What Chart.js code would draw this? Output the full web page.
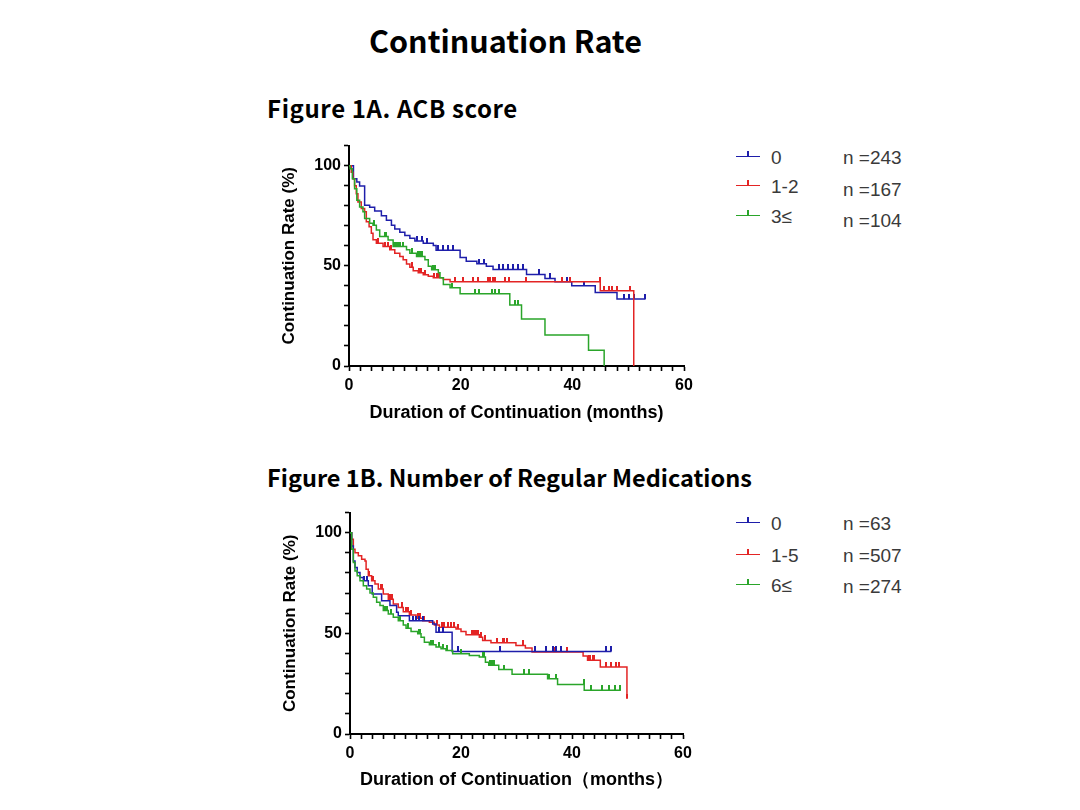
<!DOCTYPE html>
<html>
<head>
<meta charset="utf-8">
<script src="https://cdn.jsdelivr.net/npm/chart.js@4.4.1/dist/chart.umd.min.js"></script>
<style>
  body { margin: 0; background: #fff; }
  #page { position: relative; width: 1080px; height: 810px; overflow: hidden; background: #fff; }
  .title { position: absolute; font-family: "Noto Sans CJK JP", "Noto Sans", sans-serif; font-weight: bold; color: #000; line-height: 1; white-space: nowrap; }
  .box { position: absolute; }
  .leg { position: absolute; font-family: "Liberation Sans", Arial, sans-serif; font-size: 19px; color: #3a3a3a; line-height: 1; white-space: nowrap; }
  .sym { position: absolute; width: 24px; height: 0; border-top: 1.5px solid; }
  .sym::after { content: ""; position: absolute; left: 11px; top: -6px; width: 1.5px; height: 5px; background: currentColor; }
</style>
</head>
<body>
<div id="page">
  <div class="title" style="left:369px; top:25px; font-size:30.5px;">Continuation Rate</div>
  <div class="title" style="left:267px; top:96px; font-size:24px; letter-spacing:0.6px;">Figure 1A. ACB score</div>
  <div class="title" style="left:267px; top:466px; font-size:23.5px;">Figure 1B. Number of Regular Medications</div>

  <div class="box" style="left:270px; top:133px; width:430px; height:300px;"><canvas id="chartA"></canvas></div>
  <div class="box" style="left:271px; top:500px; width:428px; height:300px;"><canvas id="chartB"></canvas></div>
  <div id="legends"></div>
</div>
<script>
// Figure 1A - ACB score groups (time in months, continuation rate in %)
const acbLabels = ['0', '1-2', '3≤'];
const acbCounts = ['n =243', 'n =167', 'n =104'];

const acb0Times = [0, 0.8, 1.4, 1.9, 2.8, 3.7, 4.6, 5.8, 6.7, 7.6, 8.2, 9.1, 10.0, 10.9, 11.8, 13.3, 15.1, 15.6, 19.9, 21.0, 22.9, 24.6, 25.8, 31.8, 35.1, 36.9, 39.9, 44.1, 48.0, 53.1];
const acb0Surv = [100, 93.4, 91.8, 89.8, 80.2, 79.2, 77.3, 75, 72.8, 70.3, 68.4, 66.7, 65.1, 63.8, 62.4, 61.3, 60.1, 57.8, 54.2, 52.3, 51.0, 49.8, 48.2, 45.7, 43.7, 42.1, 40.0, 36.7, 33.4, 33.4];
const acb0Censor = [12.1, 13.0, 13.9, 16.0, 16.9, 17.8, 18.7, 23.2, 24.1, 26.8, 27.6, 28.5, 29.4, 30.3, 31.2, 34.1, 36.0, 39.0, 42.0, 49.3, 50.2, 51.1, 53.1];

const acb12Times = [0, 0.4, 0.7, 1.0, 1.3, 1.6, 2.2, 2.8, 3.1, 3.6, 4.0, 4.3, 4.9, 6.1, 7.3, 8.2, 9.1, 9.7, 10.3, 10.9, 11.5, 12.4, 13.3, 14.2, 15.1, 16.9, 18.1, 45.0, 51.0];
const acb12Surv = [100, 96.7, 93.4, 90, 86, 81.9, 78.6, 77, 72, 69.5, 66.2, 63, 61.3, 59.6, 58, 56.3, 54.7, 53, 50.9, 49.3, 47.6, 46.5, 45.6, 44.8, 44, 43.2, 42.0, 37.5, 0];
const acb12Censor = [5.2, 6.4, 7.0, 7.6, 11.2, 12.6, 12.9, 13.6, 15.3, 15.7, 16.2, 19.0, 20.5, 22.2, 23.1, 24.9, 25.3, 25.8, 26.1, 27.9, 28.7, 31.7, 38.1, 39.6, 44.9, 45.6, 46.5, 47.1, 48.0, 50.4];

const acb3Times = [0, 0.2, 0.6, 1.0, 1.4, 1.9, 2.5, 2.8, 3.7, 4.3, 4.9, 5.5, 7.0, 7.9, 10.3, 10.9, 12.1, 13.6, 14.2, 14.8, 16.0, 16.3, 16.9, 18.1, 19.9, 28.8, 30.9, 35.1, 42.9, 45.7];
const acb3Surv = [100, 98.4, 93.4, 88.5, 82.7, 79.4, 77, 73.6, 71.2, 70.3, 67.9, 64.6, 62.9, 59.6, 58, 56.3, 54.7, 53, 49.8, 48.1, 46.5, 44, 40.7, 39, 36.1, 30.5, 23.5, 15.5, 7.8, 0];
const acb3Censor = [4.4, 6.4, 6.7, 8.0, 8.4, 8.8, 9.2, 9.6, 11.2, 12.4, 12.7, 13.0, 15.1, 15.4, 18.4, 22.6, 23.2, 25.6, 26.2, 26.8, 29.7, 30.3];

// Figure 1B - number of regular medications
const medLabels = ['0', '1-5', '6≤'];
const medCounts = ['n =63', 'n =507', 'n =274'];

const med0Times = [0, 0.3, 0.6, 0.9, 1.3, 1.8, 2.4, 3.3, 4.0, 5.7, 7.2, 8.4, 8.7, 10.7, 14.9, 15.5, 18.4, 47.1];
const med0Surv = [100, 93.4, 86, 82.7, 80.2, 77.8, 76.1, 73.6, 69.5, 66.2, 63.8, 60.5, 58.8, 56.3, 54.7, 50.6, 41, 41];
const med0Censor = [2.6, 3.0, 11.3, 11.9, 12.5, 13.1, 16.1, 16.7, 19.4, 27.1, 33.3, 35.4, 36.6, 37.2, 38.1, 46.2, 47.1];

const med15Times = [0, 0.3, 0.6, 0.9, 1.5, 2.1, 2.7, 2.9, 3.3, 3.9, 4.5, 5.1, 6.0, 6.9, 7.8, 8.7, 9.6, 10.7, 11.9, 13.1, 14.3, 15.2, 16.1, 19.1, 20.0, 20.9, 23.3, 23.9, 25.4, 29.9, 31.6, 32.8, 42.0, 42.8, 45.1, 49.9];
const med15Surv = [100, 96.7, 91.8, 90.1, 88.5, 86.8, 86, 81.9, 78.6, 76.1, 74.5, 72, 69.5, 67, 64.6, 62.9, 60.8, 59.1, 57.5, 56.3, 55.5, 54.2, 53, 52.2, 50.9, 49.3, 48.1, 46.5, 45.3, 44, 42.7, 40.7, 38.7, 36.6, 33.3, 17.6];
const med15Censor = [3.5, 4.2, 5.5, 5.8, 7.2, 7.5, 9.3, 10.0, 10.4, 11.0, 12.2, 12.6, 13.4, 15.6, 16.5, 17.0, 17.6, 18.2, 18.7, 19.5, 21.9, 22.3, 22.7, 23.1, 23.6, 24.4, 26.4, 27.5, 27.8, 28.3, 31.2, 33.4, 35.4, 36.8, 37.2, 39.1, 43.0, 43.3, 43.7, 44.0, 46.2, 47.1, 48.0, 48.5, 49.9];

const med6Times = [0, 0.3, 0.6, 0.9, 1.3, 1.8, 2.4, 3.0, 3.6, 4.2, 4.8, 5.4, 6.0, 6.9, 7.8, 8.7, 9.6, 10.1, 11.0, 12.2, 12.8, 13.4, 14.3, 15.5, 16.4, 17.3, 18.5, 21.5, 23.3, 24.4, 25.0, 26.8, 29.2, 35.6, 37.4, 42.2, 48.8];
const med6Surv = [100, 91.8, 85.2, 81, 78.6, 76.1, 73.6, 72, 70, 67.9, 65.4, 63.8, 61.3, 59.6, 58, 56.3, 54.2, 52.6, 50.9, 49.8, 48.1, 45.6, 44.3, 43.2, 42.3, 41.5, 39.9, 39, 38.2, 35.7, 34.1, 32, 29.7, 27.5, 24.6, 21.7, 21.7];
const med6Censor = [6.3, 6.6, 7.3, 9.0, 10.4, 12.4, 12.6, 14.6, 15.0, 16.0, 16.8, 17.5, 20.0, 23.9, 24.2, 25.3, 25.6, 26.0, 27.8, 31.4, 32.3, 35.8, 37.1, 42.1, 43.4, 45.4, 46.6, 47.8, 48.7];

const xTickLabels = [0, 20, 40, 60];
const yTickLabels = [0, 50, 100];

const BLUE = '#1e1eaa';
const RED = '#e32424';
const GREEN = '#2aa52a';
const axisFont = '"Liberation Sans", Arial, sans-serif';

// value of the step curve at time t
function stepValue(times, surv, t) {
    let v = surv[0];
    for (let i = 0; i < times.length; i++) {
        if (times[i] <= t) v = surv[i];
    }
    return v;
}

// small vertical censor tick that sits on top of the line
function makeTick(color) {
    const c = document.createElement('canvas');
    c.width = 2;
    c.height = 10;
    const g = c.getContext('2d');
    g.fillStyle = color;
    g.fillRect(0, 0, 2, 5);
    return c;
}

function groupDatasets(times, surv, censor, color) {
    const line = {
        type: 'line',
        data: times.map((t, i) => ({ x: t, y: surv[i] })),
        borderColor: color,
        borderWidth: 1.5,
        stepped: true,
        pointRadius: 0,
        fill: false
    };
    const marks = {
        type: 'scatter',
        data: censor.map(t => ({ x: t, y: stepValue(times, surv, t) })),
        pointStyle: makeTick(color),
        pointRadius: 3,
        showLine: false
    };
    return [line, marks];
}

function buildChart(id, groups, xTitle, xAxisHeight) {
    const datasets = [];
    groups.forEach(g => datasets.push(...groupDatasets(g[0], g[1], g[2], g[3])));

    return new Chart(document.getElementById(id), {
        type: 'line',
        data: { datasets: datasets },
        options: {
            responsive: true,
            maintainAspectRatio: false,
            animation: false,
            layout: { padding: { top: 10, right: 16, left: 0, bottom: 0 } },
            plugins: { legend: { display: false }, tooltip: { enabled: false } },
            scales: {
                x: {
                    type: 'linear',
                    min: 0,
                    max: 60,
                    ticks: {
                        stepSize: 2,
                        autoSkip: false,
                        maxRotation: 0,
                        padding: 5,
                        color: '#000',
                        font: { family: axisFont, size: 16, weight: 'bold' },
                        callback: v => xTickLabels.includes(v) ? v : ''
                    },
                    grid: { drawOnChartArea: false, drawTicks: true, tickLength: 5, tickColor: '#000', tickWidth: 1.6 },
                    border: { display: true, color: '#000', width: 2 },
                    title: {
                        display: true,
                        text: xTitle,
                        color: '#000',
                        font: { family: axisFont, size: 18, weight: 'bold' },
                        padding: { top: 2, bottom: 9 }
                    },
                    afterFit: s => { s.height = xAxisHeight; }
                },
                y: {
                    min: 0,
                    max: 110,
                    ticks: {
                        stepSize: 10,
                        autoSkip: false,
                        padding: 3,
                        color: '#000',
                        font: { family: axisFont, size: 16, weight: 'bold' },
                        callback: v => yTickLabels.includes(v) ? v : ''
                    },
                    grid: { drawOnChartArea: false, drawTicks: true, tickLength: 5, tickColor: '#000', tickWidth: 1.6 },
                    border: { display: true, color: '#000', width: 2 },
                    title: {
                        display: true,
                        text: 'Continuation Rate (%)',
                        color: '#000',
                        font: { family: axisFont, size: 17, weight: 'bold' },
                        padding: { top: 9, bottom: 0 }
                    },
                    afterFit: s => { s.width = 79; }
                }
            }
        }
    });
}

buildChart('chartA', [
    [acb3Times, acb3Surv, acb3Censor, GREEN],
    [acb12Times, acb12Surv, acb12Censor, RED],
    [acb0Times, acb0Surv, acb0Censor, BLUE]
], 'Duration of Continuation (months)', 67);

buildChart('chartB', [
    [med6Times, med6Surv, med6Censor, GREEN],
    [med0Times, med0Surv, med0Censor, BLUE],
    [med15Times, med15Surv, med15Censor, RED]
], 'Duration of Continuation（months）', 66);

// legends to the right of each chart
function addLegend(labels, counts, colors, rowTops, countTops) {
    const holder = document.getElementById('legends');
    labels.forEach((lab, i) => {
        const sym = document.createElement('div');
        sym.className = 'sym';
        sym.style.left = '736px';
        sym.style.top = (rowTops[i] + 8) + 'px';
        sym.style.color = colors[i];
        sym.style.borderTopColor = colors[i];
        holder.appendChild(sym);

        const t = document.createElement('div');
        t.className = 'leg';
        t.style.left = '771px';
        t.style.top = rowTops[i] + 'px';
        t.textContent = lab;
        holder.appendChild(t);

        const n = document.createElement('div');
        n.className = 'leg';
        n.style.left = '843px';
        n.style.top = countTops[i] + 'px';
        n.textContent = counts[i];
        holder.appendChild(n);
    });
}

addLegend(acbLabels, acbCounts, [BLUE, RED, GREEN], [148, 177, 207], [148, 180, 211]);
addLegend(medLabels, medCounts, [BLUE, RED, GREEN], [514, 546, 576], [514, 546, 577]);
</script>
</body>
</html>
